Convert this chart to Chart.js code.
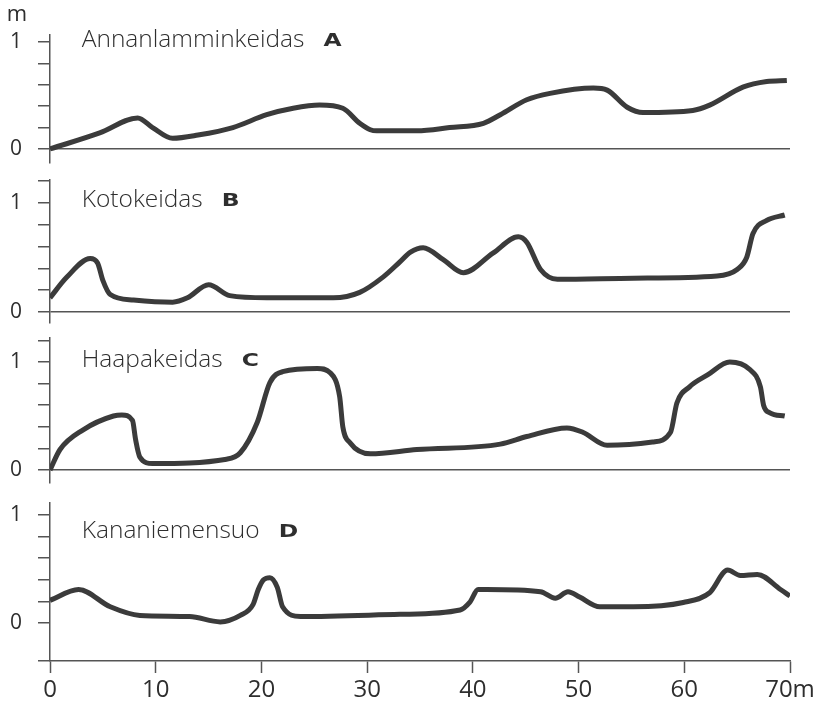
<!DOCTYPE html>
<html>
<head>
<meta charset="utf-8">
<title>Keidas profiles</title>
<script src="https://cdn.jsdelivr.net/npm/chart.js@4.4.0/dist/chart.umd.min.js"></script>
<style>
  html, body { margin: 0; padding: 0; background: #fff; }
  #wrap { position: relative; width: 833px; height: 709px; }
  #wrap canvas { position: absolute; left: 0; top: 0; }
</style>
</head>
<body>
<div id="wrap">
  <canvas id="panelA" width="833" height="709"></canvas>
  <canvas id="panelB" width="833" height="709"></canvas>
  <canvas id="panelC" width="833" height="709"></canvas>
  <canvas id="panelD" width="833" height="709"></canvas>
</div>
<script>
// distance along the profile (m) and surface height above the lowest point (m)
const distA = [0, 4.7, 8.3, 9.7, 11.6, 14, 17.3, 20.5, 23, 25.5, 27.7, 29.3, 30.3, 30.9, 34.7, 37.8, 41, 42.6, 45.1, 47.3, 51.4, 52.7, 54.6, 56.1, 60.8, 62.4, 65.6, 67.8, 69.7];
const heightA = [0, 0.15, 0.29, 0.2, 0.1, 0.13, 0.2, 0.32, 0.38, 0.41, 0.38, 0.24, 0.18, 0.17, 0.17, 0.2, 0.24, 0.32, 0.46, 0.52, 0.57, 0.55, 0.39, 0.34, 0.36, 0.41, 0.58, 0.63, 0.64];

const distB = [0, 1.6, 3.8, 4.5, 5.0, 5.7, 7.9, 11.6, 13, 15, 17, 20.5, 26.8, 29.3, 31.5, 33.1, 34.1, 35.3, 37.2, 39.1, 41.9, 44.3, 45.1, 46.4, 48, 55.2, 63.1, 65, 65.9, 66.5, 67.8, 69.5];
const heightB = [0.13, 0.32, 0.49, 0.45, 0.29, 0.16, 0.11, 0.09, 0.13, 0.25, 0.15, 0.13, 0.13, 0.18, 0.32, 0.46, 0.55, 0.59, 0.48, 0.36, 0.54, 0.69, 0.64, 0.39, 0.3, 0.31, 0.33, 0.39, 0.5, 0.72, 0.84, 0.89];

const distC = [0, 0.95, 3.1, 6, 6.8, 7.8, 8.1, 8.5, 9.7, 16.7, 18, 19.6, 20.8, 22, 25.3, 26.5, 27.4, 27.7, 28.4, 30.3, 34.7, 42.6, 45.1, 48.9, 50.4, 52.7, 57, 58.7, 59.3, 60.5, 62.2, 64.3, 66.2, 67.2, 67.5, 68.1, 69.5];
const heightC = [0, 0.19, 0.37, 0.5, 0.51, 0.46, 0.28, 0.12, 0.06, 0.1, 0.16, 0.44, 0.81, 0.91, 0.94, 0.9, 0.68, 0.4, 0.25, 0.15, 0.19, 0.24, 0.31, 0.39, 0.35, 0.23, 0.26, 0.35, 0.62, 0.77, 0.88, 1.0, 0.93, 0.77, 0.6, 0.53, 0.5];

const distD = [0, 2.7, 5.7, 8.5, 13.2, 16.1, 18, 19.2, 19.7, 20.2, 20.8, 21.5, 22, 23.7, 33.1, 38.8, 39.7, 40.5, 41.3, 46.4, 47.8, 49, 50.1, 52, 55.2, 59.9, 62.4, 64.1, 65.3, 66.9, 69.1, 70];
const heightD = [0.21, 0.31, 0.15, 0.07, 0.06, 0.01, 0.07, 0.17, 0.31, 0.4, 0.42, 0.33, 0.15, 0.06, 0.08, 0.12, 0.19, 0.31, 0.31, 0.29, 0.23, 0.29, 0.24, 0.15, 0.15, 0.19, 0.28, 0.49, 0.44, 0.45, 0.31, 0.25];

const panelNames = ['Annanlamminkeidas', 'Kotokeidas', 'Haapakeidas', 'Kananiemensuo'];
const panelLetters = ['A', 'B', 'C', 'D'];

const xTicks = [0, 10, 20, 30, 40, 50, 60, 70];
const xTickLabels = ['0', '10', '20', '30', '40', '50', '60', '70m'];
const yTicksA = [0, 0.2, 0.4, 0.6, 0.8, 1];
const yTicksBC = [0, 0.2, 0.4, 0.6, 0.8, 1, 1.2];
const yTicksD = [-0.352, 0, 0.2, 0.4, 0.6, 0.8, 1];

const ink = '#3b3b3b';
const thin = '#555';

function zip(xs, ys) {
  return xs.map((x, i) => ({ x: x, y: ys[i] }));
}

// title + bold letter, and the "m" unit on the top panel
const panelText = {
  id: 'panelText',
  afterDraw(chart, args, opts) {
    const ctx = chart.ctx;
    const x = chart.scales.x.getPixelForValue(3);
    const y = chart.scales.y.getPixelForValue(opts.titleY);
    ctx.save();
    ctx.fillStyle = '#2e2e2e';
    ctx.textBaseline = 'alphabetic';
    ctx.textAlign = 'left';
    ctx.font = '300 24.5px "Open Sans"';
    ctx.fillText(opts.name, x, y);
    const w = ctx.measureText(opts.name).width;
    ctx.font = 'bold 18px "DejaVu Sans"';
    ctx.translate(x + w + 19, y - 1);
    ctx.scale(1.3, 1);
    ctx.fillText(opts.letter, 0, 0);
    ctx.restore();
    if (opts.unit) {
      ctx.save();
      ctx.fillStyle = '#2e2e2e';
      ctx.font = '22px "Open Sans"';
      ctx.textAlign = 'center';
      ctx.fillText(opts.unit, 17, chart.chartArea.top - 14);
      ctx.restore();
    }
  }
};

function makePanel(id, k, dist, height, yMin, yMax, yTicks, pad, showX, titleY) {
  new Chart(document.getElementById(id), {
    type: 'line',
    data: {
      datasets: [{
        data: zip(dist, height),
        borderColor: ink,
        borderWidth: 5,
        pointRadius: 0,
        cubicInterpolationMode: 'monotone',
        fill: false,
        borderCapStyle: 'butt'
      }]
    },
    plugins: [panelText],
    options: {
      responsive: false,
      animation: false,
      events: [],
      layout: { padding: pad },
      plugins: {
        legend: { display: false },
        tooltip: { enabled: false },
        panelText: { name: panelNames[k], letter: panelLetters[k], titleY: titleY, unit: k === 0 ? 'm' : '' }
      },
      scales: {
        x: {
          type: 'linear',
          min: 0,
          max: 70,
          display: showX,
          afterBuildTicks: s => { s.ticks = xTicks.map(v => ({ value: v })); },
          afterFit: s => { if (showX) s.height = 48; },
          border: { display: true, color: thin, width: 1.5 },
          grid: { drawOnChartArea: false, drawTicks: true, tickLength: 12, tickColor: thin, tickWidth: 1.5 },
          ticks: {
            padding: 3,
            autoSkip: false,
            color: '#2e2e2e',
            font: { family: 'Open Sans', size: 24 },
            maxRotation: 0,
            callback: (v, i) => xTickLabels[i]
          }
        },
        y: {
          type: 'linear',
          min: yMin,
          max: yMax,
          afterBuildTicks: s => { s.ticks = yTicks.map(v => ({ value: v })); },
          afterFit: s => { s.width = 50; },
          border: { display: true, color: thin, width: 1.5 },
          grid: {
            drawOnChartArea: true,
            drawTicks: true,
            tickLength: 12,
            tickColor: thin,
            tickWidth: 1.5,
            lineWidth: 1.5,
            color: c => (c.tick && c.tick.value === 0 && k < 3) ? thin : 'rgba(0,0,0,0)'
          },
          ticks: {
            padding: 16,
            autoSkip: false,
            color: '#2e2e2e',
            font: { family: 'Open Sans', size: 21 },
            callback: v => (v === 0 ? '0' : v === 1 ? '1' : '')
          }
        }
      }
    }
  });
}

makePanel('panelA', 0, distA, heightA, -0.131, 1.065, yTicksA, { top: 35, bottom: 546, left: 0, right: 43 }, false, 0.95);
makePanel('panelB', 1, distB, heightB, -0.101, 1.211, yTicksBC, { top: 180, bottom: 386, left: 0, right: 43 }, false, 0.96);
makePanel('panelC', 2, distC, heightC, -0.12, 1.222, yTicksBC, { top: 338, bottom: 226, left: 0, right: 43 }, false, 0.95);
makePanel('panelD', 3, distD, heightD, -0.352, 1.111, yTicksD, { top: 503, bottom: 0, left: 0, right: 43 }, true, 0.79);
</script>
</body>
</html>
